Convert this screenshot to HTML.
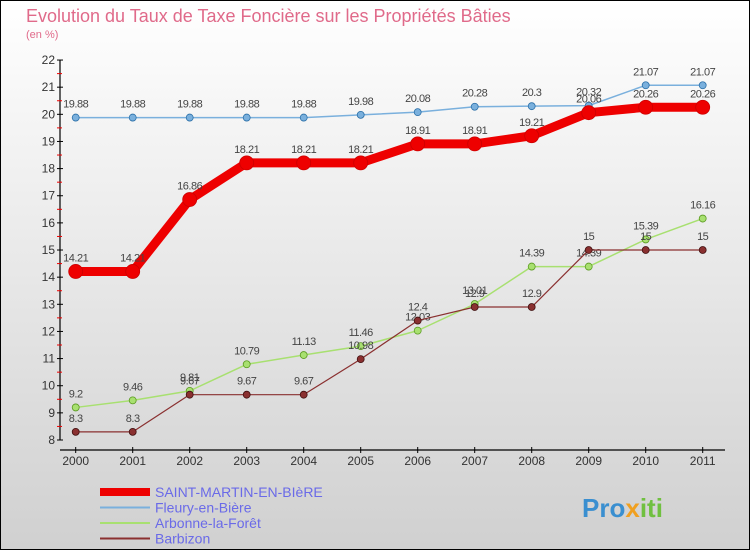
<!DOCTYPE html>
<html><head><meta charset="utf-8"><style>
body{margin:0;width:750px;height:550px;overflow:hidden;font-family:"Liberation Sans",sans-serif}
</style></head><body>
<svg width="750" height="550" xmlns="http://www.w3.org/2000/svg">
<defs><linearGradient id="bg" x1="0" y1="0" x2="0" y2="1"><stop offset="0" stop-color="#ffffff"/><stop offset="1" stop-color="#d0d0d0"/></linearGradient></defs>
<rect x="0.5" y="0.5" width="749" height="549" fill="url(#bg)" stroke="#000"/>
<text x="26" y="22" font-size="18" fill="#e06a8a">Evolution du Taux de Taxe Foncière sur les Propriétés Bâties</text>
<text x="26" y="38" font-size="11" fill="#e06a8a">(en %)</text>
<g id="axes"></g>
<g id="series"></g>
<g id="legend"></g>
<text x="582" y="517" font-size="26" font-weight="bold" fill="#3a8fd0">Pro<tspan fill="#f0a020">x</tspan><tspan fill="#70c040">iti</tspan></text>
</svg>
<script>
const years=[2000,2001,2002,2003,2004,2005,2006,2007,2008,2009,2010,2011];
const yTicks=[8,9,10,11,12,13,14,15,16,17,18,19,20,21,22];
const saint=[14.21,14.21,16.86,18.21,18.21,18.21,18.91,18.91,19.21,20.06,20.26,20.26];
const fleury=[19.88,19.88,19.88,19.88,19.88,19.98,20.08,20.28,20.3,20.32,21.07,21.07];
const arbonne=[9.2,9.46,9.81,10.79,11.13,11.46,12.03,13.01,14.39,14.39,15.39,16.16];
const barbizon=[8.3,8.3,9.67,9.67,9.67,10.98,12.4,12.9,12.9,15,15,15];
const seriesNames=["SAINT-MARTIN-EN-BIèRE","Fleury-en-Bière","Arbonne-la-Forêt","Barbizon"];
const NS="http://www.w3.org/2000/svg";
const xs=i=>75.7+i*57.0;
const ys=v=>440-(v-8)*27.14;
function mk(tag,attrs,parent,text){const e=document.createElementNS(NS,tag);for(const k in attrs)e.setAttribute(k,attrs[k]);if(text!==undefined)e.textContent=text;parent.appendChild(e);return e;}
const ax=document.getElementById('axes');
let yl=mk('line',{x1:60,y1:ys(22),x2:60,y2:ys(8),stroke:'#000','stroke-width':1.2},ax);


let xl=mk('line',{x1:60,y1:450,x2:725,y2:450,stroke:'#000','stroke-width':1.2},ax);


yTicks.forEach(t=>{
 mk('line',{x1:57,y1:ys(t),x2:63,y2:ys(t),stroke:'#000'},ax);
 if(t<22)mk('line',{x1:57,y1:ys(t+0.5),x2:62,y2:ys(t+0.5),stroke:'#e00'},ax);
 const l=mk('text',{x:55,y:ys(t)+4,'font-size':12,fill:'#333','text-anchor':'end'},ax,t);
 
 
});
years.forEach((y,i)=>{
 mk('line',{x1:xs(i),y1:447,x2:xs(i),y2:453,stroke:'#000'},ax);
 const l=mk('text',{x:xs(i),y:465,'font-size':12,fill:'#333','text-anchor':'middle'},ax,y);
 
 
});
const sg=document.getElementById('series');
function draw(vals,color,w,r,name,stroke){
 const g=mk('g',{},sg);
 
 
 mk('polyline',{points:vals.map((v,i)=>xs(i)+','+ys(v)).join(' '),fill:'none',stroke:color,'stroke-width':w,'stroke-linejoin':'round'},g);
 vals.forEach((v,i)=>{
  const c=mk('circle',{cx:xs(i),cy:ys(v),r:r,fill:color,stroke:stroke,'stroke-width':0.8},g);
  
  
  const t=mk('text',{x:xs(i),y:ys(v)-10,'font-size':11,fill:'#444','text-anchor':'middle','letter-spacing':'-0.5'},g,v);
  
  
 });
}
draw(fleury,'#7ab0dd',1.5,3.5,'series-fleury','#2a6fa8');
draw(saint,'#ee0000',9,7,'series-saint-martin','#c00');
draw(arbonne,'#a8e070',1.5,3.5,'series-arbonne','#5a9a20');
draw(barbizon,'#8a3030',1.2,3.5,'series-barbizon','#401010');
const lg=document.getElementById('legend');
const lcol=['#ee0000','#7ab0dd','#a8e070','#8a3030'],lw=[8,2,2,2];
seriesNames.forEach((n,i)=>{
 const y=492+i*15.5;
 const g=mk('g',{},lg);
 
 
 mk('line',{x1:100,y1:y,x2:150,y2:y,stroke:lcol[i],'stroke-width':lw[i]},g);
 mk('text',{x:155,y:y+5,'font-size':14,fill:'#6a6ae8'},g,n);
});
</script>
</body></html>
